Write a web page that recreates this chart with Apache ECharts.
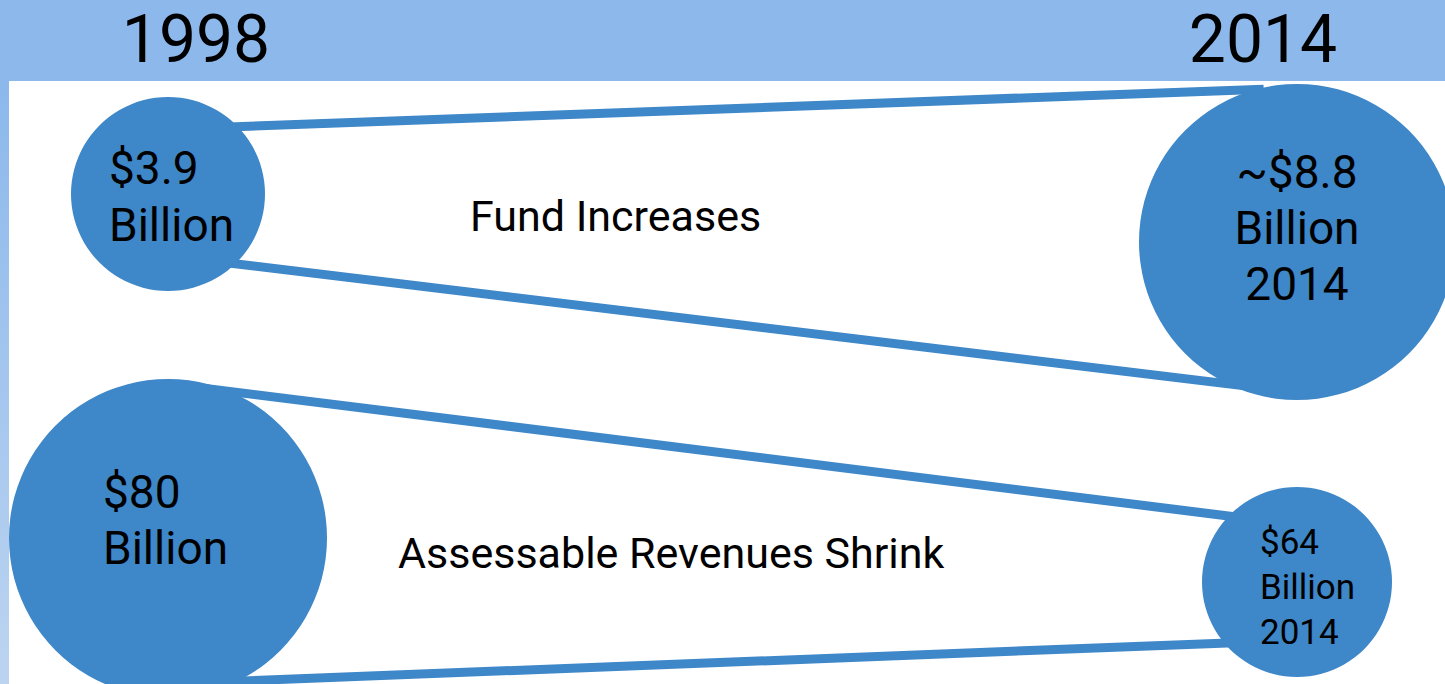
<!DOCTYPE html>
<html>
<head>
<meta charset="utf-8">
<script src="https://cdn.jsdelivr.net/npm/echarts@6/dist/echarts.min.js"></script>
<style>
  html, body { margin: 0; padding: 0; background: #fff; }
  #chart { width: 1445px; height: 684px; }
</style>
</head>
<body>
<div id="chart"></div>
<script>
// data
const years = ["1998", "2014"];
const rows = ["Fund Increases", "Assessable Revenues Shrink"];
const fundValues = [3.9, 8.8];       // $ billion
const revenueValues = [80, 64];      // $ billion
const fundPrefix = ["", "~"];
const revenuePrefix = ["", ""];

// styling (not data)
const blue = "#3e87c8";
const band = "#8cb8ec";
const font = "Roboto, 'Noto Sans', sans-serif";
const rowStyle = [
  {
    tilt: 24,
    radius: [97, 158],
    label: [{ dx: -59, dy: 2, align: "left", size: 46, lh: 57 },
            { dx: 0, dy: -14, align: "center", size: 46, lh: 56 }],
    caption: { dx: 302, dy: -2 },
    // [angle on circle, radius factor, extension into circle]
    lines: [[[-44, 1.0, 30], [-111, 1.03, 25]], [[46, 1.0, 30], [107.5, 0.96, 10]]]
  },
  {
    tilt: 22,
    radius: [159, 95],
    label: [{ dx: -65, dy: -18, align: "left", size: 46, lh: 56 },
            { dx: -37, dy: 5, align: "left", size: 35, lh: 45 }],
    caption: { dx: 230, dy: -7 },
    lines: [[[-90, 0.97, 0], [-136, 1.0, 30]], [[67, 0.98, 20], [140, 1.0, 30]]]
  }
];

const values = [fundValues, revenueValues];
const prefixes = [fundPrefix, revenuePrefix];

function labelText(r, i) {
  let t = prefixes[r][i] + "$" + values[r][i] + "\nBillion";
  if (i === 1) t += "\n" + years[1];
  return t;
}

function renderRow(params, api) {
  const r = api.value(0);
  const st = rowStyle[r];
  const a = api.coord([0, r]);
  const b = api.coord([1, r]);
  const centers = [[a[0], a[1] - st.tilt], [b[0], b[1] + st.tilt]];
  const children = [];

  st.lines.forEach((pair) => {
    const pts = pair.map(([deg, k], i) => {
      const rad = (deg * Math.PI) / 180;
      return [centers[i][0] + st.radius[i] * k * Math.cos(rad),
              centers[i][1] + st.radius[i] * k * Math.sin(rad)];
    });
    const dx = pts[1][0] - pts[0][0];
    const dy = pts[1][1] - pts[0][1];
    const len = Math.hypot(dx, dy);
    const ux = dx / len, uy = dy / len;
    const e1 = pair[0][2], e2 = pair[1][2];
    children.push({
      type: "line",
      shape: {
        x1: pts[0][0] - ux * e1, y1: pts[0][1] - uy * e1,
        x2: pts[1][0] + ux * e2, y2: pts[1][1] + uy * e2
      },
      style: { stroke: blue, lineWidth: 9, lineCap: "butt" }
    });
  });

  centers.forEach((c, i) => {
    children.push({
      type: "circle",
      shape: { cx: c[0], cy: c[1], r: st.radius[i] },
      style: { fill: blue }
    });
  });

  centers.forEach((c, i) => {
    const ls = st.label[i];
    children.push({
      type: "text",
      x: c[0] + ls.dx,
      y: c[1] + ls.dy,
      style: {
        text: labelText(r, i),
        fill: "#000",
        fontSize: ls.size,
        fontFamily: font,
        lineHeight: ls.lh,
        align: ls.align,
        verticalAlign: "middle"
      }
    });
  });

  children.push({
    type: "text",
    x: a[0] + st.caption.dx,
    y: (a[1] + b[1]) / 2 + st.caption.dy,
    style: {
      text: rows[r],
      fill: "#000",
      fontSize: 43,
      fontFamily: font,
      align: "left",
      verticalAlign: "middle"
    }
  });

  return { type: "group", children };
}

const chart = echarts.init(document.getElementById("chart"), null, { renderer: "svg" });

chart.setOption({
  backgroundColor: "#fff",
  animation: false,
  grid: { left: 168, right: 148, top: 218, bottom: 124 },
  xAxis: {
    type: "category",
    data: years,
    position: "top",
    boundaryGap: false,
    axisLine: { show: false },
    axisTick: { show: false },
    splitLine: { show: false },
    axisLabel: {
      interval: 0,
      margin: 179,
      verticalAlign: "middle",
      formatter: (v, i) => (i === 0 ? "{a|" + v + "}" : "{b|" + v + "}"),
      rich: {
        a: { fontSize: 66, fontFamily: font, color: "#000", lineHeight: 78, padding: [0, 0, 0, 56] },
        b: { fontSize: 66, fontFamily: font, color: "#000", lineHeight: 78, padding: [0, 68, 0, 0] }
      }
    },
    z: 10
  },
  yAxis: {
    type: "category",
    data: rows,
    inverse: true,
    boundaryGap: false,
    show: false
  },
  graphic: [
    {
      type: "rect",
      left: 0, top: 0, z: 5,
      shape: { width: 1445, height: 81 },
      style: { fill: band }
    },
    {
      type: "rect",
      left: 0, top: 81, z: 5,
      shape: { width: 9, height: 603 },
      style: {
        fill: new echarts.graphic.LinearGradient(0, 0, 0, 1, [
          { offset: 0, color: band },
          { offset: 1, color: "#bcd4f0" }
        ])
      }
    }
  ],
  series: [
    {
      type: "custom",
      clip: false,
      renderItem: renderRow,
      encode: { y: 0 },
      data: rows.map((_, i) => [i, values[i][0], values[i][1]]),
      z: 2
    }
  ]
});
</script>
</body>
</html>
